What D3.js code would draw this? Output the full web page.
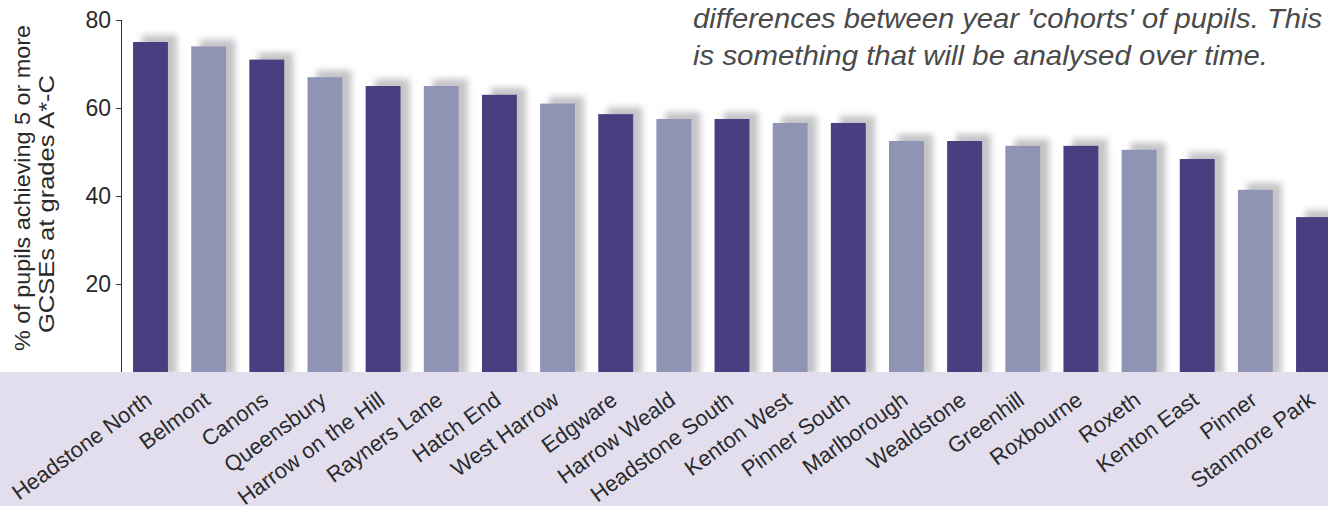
<!DOCTYPE html>
<html>
<head>
<meta charset="utf-8">
<script src="https://cdn.jsdelivr.net/npm/d3@7"></script>
<style>
  html, body { margin: 0; padding: 0; background: #ffffff; }
  svg { display: block; }
  text { font-family: "Liberation Sans", Arial, Helvetica, sans-serif; }
</style>
</head>
<body>
<svg id="chart" width="1328" height="506"></svg>
<script>
const schools = ["Headstone North","Belmont","Canons","Queensbury","Harrow on the Hill","Rayners Lane","Hatch End","West Harrow","Edgware","Harrow Weald","Headstone South","Kenton West","Pinner South","Marlborough","Wealdstone","Greenhill","Roxbourne","Roxeth","Kenton East","Pinner","Stanmore Park"];
const values = [75, 74, 71, 67, 65, 65, 63, 61, 58.6, 57.5, 57.5, 56.6, 56.6, 52.5, 52.5, 51.4, 51.4, 50.5, 48.4, 41.4, 35.2];
const yTicks = [20, 40, 60, 80];
const yTitle = ["% of pupils achieving 5 or more", "GCSEs at grades A*-C"];
const note = ["differences between year 'cohorts' of pupils. This", "is something that will be analysed over time."];

const svg = d3.select("#chart");
const W = 1328, H = 506;
const baseY = 372, topY = 20, axisX = 122;

const defs = svg.append("defs");
const f = defs.append("filter").attr("id", "blur").attr("x", "-50%").attr("y", "-50%").attr("width", "200%").attr("height", "200%");
f.append("feGaussianBlur").attr("stdDeviation", 3.2);

// lavender band
svg.append("rect").attr("x", 0).attr("y", baseY).attr("width", W).attr("height", H - baseY).attr("fill", "#e2deee");

const x = d3.scaleBand().domain(schools).range([axisX, 1342]).paddingInner(0.4).paddingOuter(0.19);
const y = d3.scaleLinear().domain([0, 80]).range([baseY, topY]);

const clip = defs.append("clipPath").attr("id", "plotclip");
clip.append("rect").attr("x", 0).attr("y", 0).attr("width", W).attr("height", baseY);

const data = schools.map((s, i) => ({ s, v: values[i], i }));

// shadows
svg.append("g").attr("clip-path", "url(#plotclip)")
  .selectAll("rect").data(data).join("rect")
  .attr("x", d => x(d.s) + 9)
  .attr("y", d => y(d.v) - 7)
  .attr("width", x.bandwidth())
  .attr("height", d => baseY - y(d.v) + 10)
  .attr("fill", "#c4c4c8")
  .attr("filter", "url(#blur)");

// bars
svg.append("g").selectAll("rect").data(data).join("rect")
  .attr("x", d => x(d.s))
  .attr("y", d => y(d.v))
  .attr("width", x.bandwidth())
  .attr("height", d => baseY - y(d.v))
  .attr("fill", d => d.i % 2 === 0 ? "#4a3d80" : "#9094b4");

// y axis
const yAxis = d3.axisLeft(y).tickValues(yTicks).tickSize(6).tickPadding(5);
const ga = svg.append("g").attr("transform", `translate(${axisX},0)`).call(yAxis);
ga.select(".domain").attr("d", `M-0.5,${topY}V${baseY}`).attr("stroke", "#333");
ga.selectAll(".tick line").attr("stroke", "#333");
ga.selectAll(".tick text").attr("font-size", 23).attr("fill", "#2a2a2a").attr("font-family", "Liberation Sans, Arial, sans-serif");

// y title
const yt = svg.append("g");
yt.append("text").attr("transform", "translate(30,188) rotate(-90)").attr("text-anchor", "middle")
  .attr("font-size", 22).attr("textLength", 326).attr("lengthAdjust", "spacingAndGlyphs")
  .attr("fill", "#2a2a2a").text(yTitle[0]);
yt.append("text").attr("transform", "translate(54,204) rotate(-90)").attr("text-anchor", "middle")
  .attr("font-size", 22).attr("textLength", 258).attr("lengthAdjust", "spacingAndGlyphs")
  .attr("fill", "#2a2a2a").text(yTitle[1]);

// x labels
svg.append("g").selectAll("text").data(data).join("text")
  .attr("transform", d => `translate(${x(d.s) + x.bandwidth() / 2 + 3},403) rotate(-36)`)
  .attr("text-anchor", "end")
  .attr("font-size", 22)
  .attr("fill", "#2a2a2a")
  .text(d => d.s);

// note text
const noteLen = [629, 575];
svg.append("g").selectAll("text").data(note).join("text")
  .attr("x", 693)
  .attr("y", (d, i) => 28 + i * 37)
  .attr("font-family", "'Liberation Sans', Arial, sans-serif")
  .attr("font-size", 28)
  .attr("font-style", "italic")
  .attr("textLength", (d, i) => noteLen[i])
  .attr("lengthAdjust", "spacingAndGlyphs")
  .attr("fill", "#4a4a4a")
  .text(d => d);
</script>
</body>
</html>
